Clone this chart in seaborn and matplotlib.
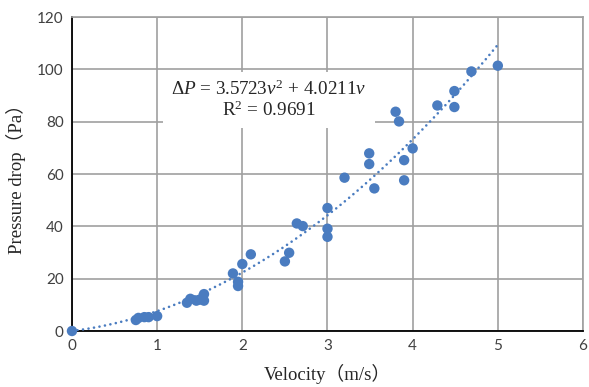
import numpy as np
import pandas as pd
import matplotlib
matplotlib.use("Agg")
import matplotlib.pyplot as plt
import seaborn as sns

velocity = [0.0, 0.75, 0.78, 0.85, 0.9, 1.0,
            1.35, 1.39, 1.46, 1.5, 1.55, 1.55,
            1.89, 1.95, 1.95, 2.0, 2.1,
            2.5, 2.55, 2.64, 2.71, 3.0, 3.0, 3.0,
            3.2, 3.49, 3.49, 3.55,
            3.8, 3.84, 3.9, 3.9, 4.0,
            4.29, 4.49, 4.49, 4.69, 5.0]
pressure = [0.0, 4.2, 5.0, 5.3, 5.3, 5.7,
            10.8, 12.3, 11.6, 12.0, 14.1, 11.6,
            22.0, 18.8, 17.2, 25.6, 29.3,
            26.6, 29.9, 41.1, 40.1, 47.0, 39.1, 36.0,
            58.6, 67.9, 63.8, 54.5,
            83.8, 80.1, 65.3, 57.6, 69.8,
            86.2, 91.7, 85.6, 99.2, 101.4]
coef_a = 3.5723
coef_b = 4.0211
r_squared = 0.9691
x_ticks = [0, 1, 2, 3, 4, 5, 6]
y_ticks = [0, 20, 40, 60, 80, 100, 120]

df = pd.DataFrame({"v": velocity, "dp": pressure})
v_fit = np.linspace(0, 5, 200)
fit_df = pd.DataFrame({"v": v_fit, "dp": coef_a * v_fit**2 + coef_b * v_fit})

sns.set_theme(style="white")
plt.rcParams["mathtext.fontset"] = "custom"
plt.rcParams["mathtext.rm"] = "Liberation Serif"
plt.rcParams["mathtext.it"] = "Liberation Serif:italic"

blue = "#4A7CC0"
fig = plt.figure(figsize=(5.89, 3.87), dpi=100)
ax = fig.add_axes([0.1222, 0.1447, 0.8676, 0.8113])

sns.lineplot(data=fit_df, x="v", y="dp", ax=ax, color=blue, lw=1.9,
             linestyle=(0, (0.01, 2.1)), zorder=3)
ax.lines[-1].set_dash_capstyle("round")
sns.scatterplot(data=df, x="v", y="dp", ax=ax, color=blue, s=56,
                edgecolor="none", zorder=4, clip_on=False)

ax.set_xlim(0, 6)
ax.set_ylim(0, 120)
ax.set_xticks(x_ticks)
ax.set_yticks(y_ticks)
ax.set_xticklabels([str(t) for t in x_ticks])
ax.set_yticklabels([str(t) for t in y_ticks])
ax.grid(True, color="#a0a0a0", lw=1.2)
ax.set_axisbelow(True)
for s in ["top", "right"]:
    ax.spines[s].set_color("#a0a0a0")
    ax.spines[s].set_linewidth(1.2)
for s in ["left", "bottom"]:
    ax.spines[s].set_color("black")
    ax.spines[s].set_linewidth(1.3)
ax.tick_params(length=0, labelsize=11, labelcolor="#404040", pad=6)
for lab in ax.get_xticklabels() + ax.get_yticklabels():
    lab.set_family("Lato")

ax.set_xlabel("Velocity（m/s）", family=["Liberation Serif", "Noto Sans CJK SC"],
              fontsize=13.5, labelpad=8)
ax.set_ylabel("Pressure drop（Pa）", family=["Liberation Serif", "Noto Sans CJK SC"],
              fontsize=13.5, labelpad=8)

eq = (r"$\mathit{\Delta P}$ = " + f"{coef_a}" + r"$\mathit{v}^{2}$ + " + f"{coef_b}"
      + r"$\mathit{v}$" + "\n" + r"R$^{2}$ = " + f"{r_squared}")
ax.text(2.31, 88.3, eq, ha="center", va="center", fontsize=13.8,
        family="Liberation Serif", linespacing=1.1, zorder=5,
        bbox=dict(facecolor="white", edgecolor="none", pad=6))

fig.savefig("out.png", dpi=100)
